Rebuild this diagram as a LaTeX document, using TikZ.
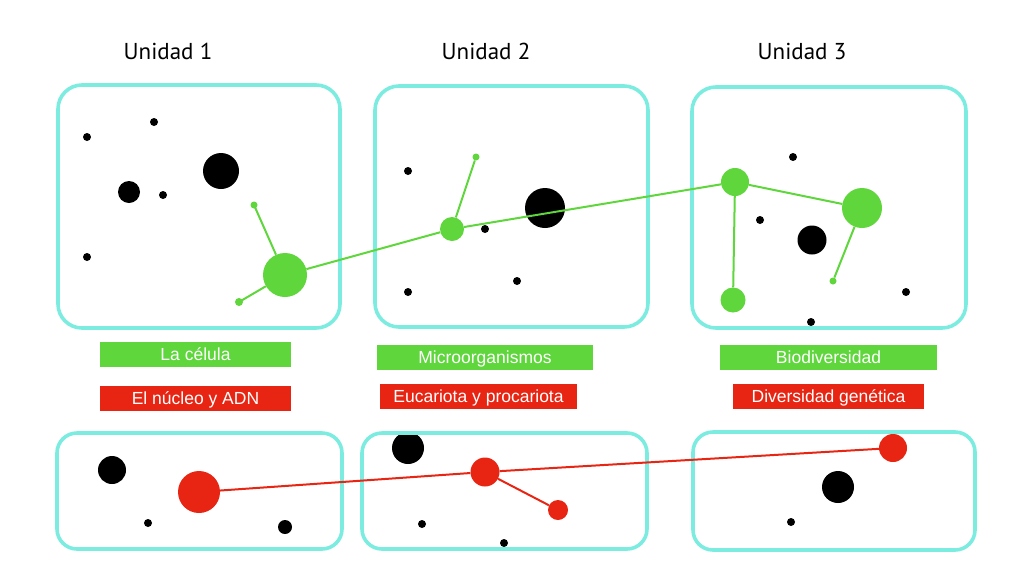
\documentclass[tikz,border=0pt]{standalone}
\usepackage{fontspec}
\setmainfont{Liberation Sans}
\newfontfamily\unitfont{PT Sans}
\usepackage{xcolor}
\usepackage{tikz}
\definecolor{boxcyan}{RGB}{124,236,224}
\definecolor{leafgreen}{RGB}{94,214,60}
\definecolor{bloodred}{RGB}{232,36,18}

\begin{document}
\begin{tikzpicture}[x=1pt, y=-1pt]
\tikzset{unitbox/.style={draw=boxcyan, line width=3.6pt, rounded corners=24pt}}
\tikzset{blackdot/.style={circle, fill=black, inner sep=0pt, minimum size=#1}}
\tikzset{greendot/.style={circle, fill=leafgreen, inner sep=0pt, minimum size=#1}}
\tikzset{reddot/.style={circle, fill=bloodred, inner sep=0pt, minimum size=#1}}
\tikzset{topicbar/.style={fill=#1, text=white, inner sep=0pt, minimum height=25pt, text height=12.5pt, text depth=0pt, font=\fontsize{17.5}{19}\selectfont}}
\tikzset{unitlabel/.style={anchor=base, font=\unitfont\fontsize{23}{26}\selectfont}}
\tikzset{greenline/.style={draw=leafgreen, line width=2pt}}
\tikzset{redline/.style={draw=bloodred, line width=2pt}}
    \useasboundingbox (0,0) rectangle (1024,576);

    \node[unitlabel] (u1) at (168,59.5) {Unidad 1};
    \node[unitlabel] (u2) at (486,59.5) {Unidad 2};
    \node[unitlabel] (u3) at (802,59.5) {Unidad 3};
% % % % % % % % % % % % % % % % % % %
    \node[blackdot=8pt] (b1a) at (87,137) {};
    \node[blackdot=8pt] (b1b) at (154,122) {};
    \node[blackdot=8pt] (b1c) at (163,195) {};
    \node[blackdot=8pt] (b1d) at (87,257) {};
    \node[blackdot=22pt] (b1e) at (129,192) {};
    \node[blackdot=36pt] (b1f) at (221,171) {};
    \node[greendot=44pt] (g1) at (285,275) {};
    \node[greendot=7pt] (g1t) at (254,205) {};
    \node[greendot=8pt] (g1b) at (239,302) {};
% % % % % % % % % % % % % % % % % % %
    \node[blackdot=8pt] (b2a) at (408,171) {};
    \node[blackdot=8pt] (b2b) at (485,229) {};
    \node[blackdot=8pt] (b2c) at (517,281) {};
    \node[blackdot=8pt] (b2d) at (408,292) {};
    \node[blackdot=40pt] (b2e) at (545,208) {};
    \node[greendot=24pt] (g2) at (452,229) {};
    \node[greendot=7pt] (g2t) at (476,157) {};
% % % % % % % % % % % % % % % % % % %
    \node[blackdot=8pt] (b3a) at (793,157) {};
    \node[blackdot=8pt] (b3b) at (760,220) {};
    \node[blackdot=8pt] (b3c) at (906,292) {};
    \node[blackdot=8pt] (b3d) at (811,322) {};
    \node[blackdot=29pt] (b3e) at (812,240) {};
    \node[greendot=28pt] (g3a) at (735,182) {};
    \node[greendot=40pt] (g3b) at (862,208) {};
    \node[greendot=25pt] (g3c) at (733,300) {};
    \node[greendot=7pt] (g3d) at (833,281) {};
% % % % % % % % % % % % % % % % % % %
    \node[blackdot=28pt] (b4a) at (112,470) {};
    \node[blackdot=8pt] (b4b) at (148,523) {};
    \node[blackdot=14pt] (b4c) at (285,527) {};
    \node[reddot=42pt] (r4) at (199,492) {};

    \node[blackdot=32pt] (b5a) at (408,448) {};
    \node[blackdot=8pt] (b5b) at (422,524) {};
    \node[blackdot=8pt] (b5c) at (504,543) {};
    \node[reddot=29pt] (r5a) at (485,472) {};
    \node[reddot=20pt] (r5b) at (558,510) {};

    \node[blackdot=32pt] (b6a) at (838,487) {};
    \node[blackdot=8pt] (b6b) at (791,522) {};
    \node[reddot=28pt] (r6) at (893,448) {};
% % % % % % % % % % % % % % % % % % %
    \draw[unitbox] (58,85) rectangle (340,328);
    \draw[unitbox] (375,86) rectangle (648,327);
    \draw[unitbox] (692,87) rectangle (966,328);
    \draw[unitbox, rounded corners=20pt] (57,433) rectangle (342,549);
    \draw[unitbox, rounded corners=20pt] (362,433) rectangle (647,549);
    \draw[unitbox, rounded corners=20pt] (693,432) rectangle (975,550);

    \node[topicbar=leafgreen, minimum width=191pt] (t1) at (195.5,354.5) {La célula};
    \node[topicbar=bloodred, minimum width=191pt] (s1) at (195.5,398.5) {El núcleo y ADN};
    \node[topicbar=leafgreen, minimum width=216pt] (t2) at (485,357) {Microorganismos};
    \node[topicbar=bloodred, minimum width=197pt] (s2) at (478.5,396.5) {Eucariota y procariota};
    \node[topicbar=leafgreen, minimum width=217pt] (t3) at (828.5,357) {Biodiversidad};
    \node[topicbar=bloodred, minimum width=191pt] (s3) at (828.5,396) {Diversidad genética};
% % % % % % % % % % % % % % % % % % %
    \draw[greenline] (g1) -- (g2) -- (g3a);
    \draw[greenline, shorten >=-3pt] (g1) -- (g1t);
    \draw[greenline, shorten >=-3pt] (g1) -- (g1b);
    \draw[greenline] (g2) -- (g2t);
    \draw[greenline] (g3a) -- (g3b);
    \draw[greenline] (g3a) -- (g3c);
    \draw[greenline] (g3b) -- (g3d);

    \draw[redline] (r4) -- (r5a) -- (r6);
    \draw[redline] (r5a) -- (r5b);
\end{tikzpicture}
\end{document}
